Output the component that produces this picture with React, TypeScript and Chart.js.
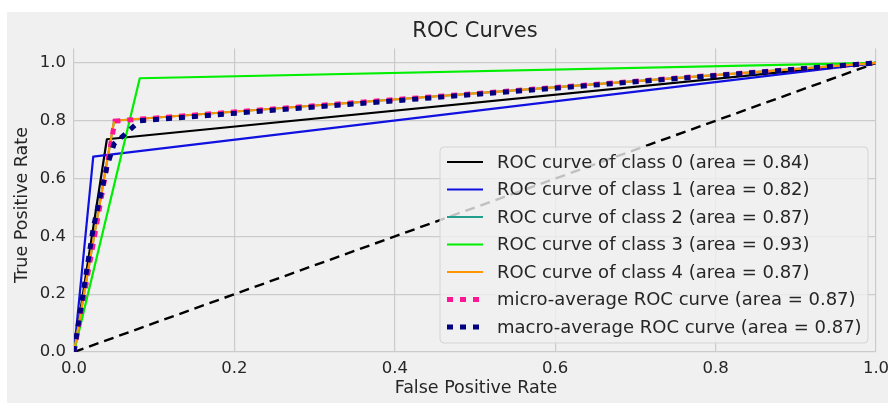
import { useEffect, useRef } from 'react';
import { Chart, registerables } from 'chart.js';

Chart.register(...registerables);

// ---- data ----
const class0Fpr = [0, 0.041, 1];
const class0Tpr = [0, 0.736, 1];
const class1Fpr = [0, 0.024, 1];
const class1Tpr = [0, 0.676, 1];
const class2Fpr = [0, 0.05, 1];
const class2Tpr = [0, 0.8, 1];
const class3Fpr = [0, 0.082, 1];
const class3Tpr = [0, 0.947, 1];
const class4Fpr = [0, 0.05, 1];
const class4Tpr = [0, 0.8, 1];
const microFpr = [0, 0.051, 1];
const microTpr = [0, 0.799, 1];
const macroFpr = [0, 0.024, 0.041, 0.05, 0.082, 1];
const macroTpr = [0, 0.43, 0.64, 0.72, 0.8, 1];
const chanceFpr = [0, 1];
const chanceTpr = [0, 1];

const seriesLabels = [
  'ROC curve of class 0 (area = 0.84)',
  'ROC curve of class 1 (area = 0.82)',
  'ROC curve of class 2 (area = 0.87)',
  'ROC curve of class 3 (area = 0.93)',
  'ROC curve of class 4 (area = 0.87)',
  'micro-average ROC curve (area = 0.87)',
  'macro-average ROC curve (area = 0.87)',
];
const seriesColors = ['#000000', '#1010e0', '#20a08c', '#00ee00', '#ff9500', '#ff1493', '#000080'];
const tickValues = [0, 0.2, 0.4, 0.6, 0.8, 1.0];

const FONT = '"DejaVu Sans", sans-serif';
const TEXT = '#262626';

const pts = (xs: number[], ys: number[]) => xs.map((x, i) => ({ x, y: ys[i] }));

const solid = (label: string, color: string, xs: number[], ys: number[]) => ({
  label,
  data: pts(xs, ys),
  borderColor: color,
  backgroundColor: color,
  borderWidth: 2.2,
  pointRadius: 0,
  pointHoverRadius: 0,
  fill: false,
  tension: 0,
  showLine: true,
  borderJoinStyle: 'round' as const,
  borderCapStyle: 'round' as const,
});

const dotted = (label: string, color: string, xs: number[], ys: number[]) => ({
  label,
  data: pts(xs, ys),
  borderColor: color,
  backgroundColor: color,
  borderWidth: 5,
  borderDash: [6, 7],
  borderCapStyle: 'butt' as const,
  pointRadius: 0,
  pointHoverRadius: 0,
  fill: false,
  tension: 0,
  showLine: true,
});

const decorPlugin = {
  id: 'decor',
  beforeDraw(chart: any) {
    const { ctx, width, height } = chart;
    ctx.save();
    ctx.fillStyle = '#ffffff';
    ctx.fillRect(0, 0, width, height);
    ctx.fillStyle = '#f0f0f0';
    ctx.fillRect(7, 12, width - 7, height - 12);
    ctx.restore();
  },
  afterDraw(chart: any) {
    const { ctx, chartArea } = chart;
    ctx.save();
    // title
    ctx.fillStyle = TEXT;
    ctx.textAlign = 'center';
    ctx.textBaseline = 'middle';
    const cx = (chartArea.left + chartArea.right) / 2;
    ctx.font = `21px ${FONT}`;
    ctx.fillText('ROC Curves', cx, 32);
    // axis titles
    ctx.font = `17.5px ${FONT}`;
    ctx.fillText('False Positive Rate', cx + 1, 388);
    ctx.save();
    ctx.translate(22, 205);
    ctx.rotate(-Math.PI / 2);
    ctx.fillText('True Positive Rate', 0, 0);
    ctx.restore();

    // legend
    const bx = 440, by = 147, bw = 428, bh = 196, r = 4;
    ctx.beginPath();
    ctx.moveTo(bx + r, by);
    ctx.arcTo(bx + bw, by, bx + bw, by + bh, r);
    ctx.arcTo(bx + bw, by + bh, bx, by + bh, r);
    ctx.arcTo(bx, by + bh, bx, by, r);
    ctx.arcTo(bx, by, bx + bw, by, r);
    ctx.closePath();
    ctx.fillStyle = 'rgba(240,240,240,0.8)';
    ctx.fill();
    ctx.strokeStyle = '#d4d4d4';
    ctx.lineWidth = 1;
    ctx.stroke();

    ctx.font = `18px ${FONT}`;
    ctx.textAlign = 'left';
    ctx.textBaseline = 'middle';
    seriesLabels.forEach((lab, i) => {
      const y = 162 + i * 27.5;
      ctx.beginPath();
      ctx.moveTo(447, y);
      ctx.lineTo(483, y);
      ctx.strokeStyle = seriesColors[i];
      if (i >= 5) {
        ctx.lineWidth = 5;
        ctx.setLineDash([6, 7]);
      } else {
        ctx.lineWidth = 2.2;
        ctx.setLineDash([]);
      }
      ctx.lineCap = 'butt';
      ctx.stroke();
      ctx.setLineDash([]);
      ctx.fillStyle = TEXT;
      ctx.fillText(lab, 497, y + 1);
    });
    ctx.restore();
  },
};

export default function App() {
  const ref = useRef<HTMLCanvasElement | null>(null);
  useEffect(() => {
    if (!ref.current) return;
    const chart = new Chart(ref.current, {
      type: 'line',
      data: {
        datasets: [
          dotted(seriesLabels[6], seriesColors[6], macroFpr, macroTpr),
          dotted(seriesLabels[5], seriesColors[5], microFpr, microTpr),
          solid(seriesLabels[4], seriesColors[4], class4Fpr, class4Tpr),
          solid(seriesLabels[3], seriesColors[3], class3Fpr, class3Tpr),
          solid(seriesLabels[2], seriesColors[2], class2Fpr, class2Tpr),
          solid(seriesLabels[1], seriesColors[1], class1Fpr, class1Tpr),
          solid(seriesLabels[0], seriesColors[0], class0Fpr, class0Tpr),
          {
            label: 'chance',
            data: pts(chanceFpr, chanceTpr),
            borderColor: '#000000',
            borderWidth: 2.4,
            borderDash: [10, 6],
            borderCapStyle: 'butt',
            pointRadius: 0,
            fill: false,
            tension: 0,
            showLine: true,
          } as any,
        ],
      },
      options: {
        responsive: false,
        animation: false,
        devicePixelRatio: 1,
        layout: { padding: { left: 0, right: 12, top: 48.5, bottom: 0 } },
        plugins: {
          legend: { display: false },
          title: { display: false },
          tooltip: { enabled: false },
        },
        scales: {
          x: {
            type: 'linear',
            min: 0,
            max: 1,
            afterBuildTicks: (s: any) => {
              s.ticks = tickValues.map((v) => ({ value: v }));
            },
            afterFit: (s: any) => {
              s.height = 51;
              s.paddingLeft = 0;
              s.paddingRight = 0;
            },
            ticks: {
              callback: (v: any) => Number(v).toFixed(1),
              font: { family: FONT, size: 16.5 },
              color: TEXT,
              padding: 7,
              maxRotation: 0,
              autoSkip: false,
            },
            grid: { color: '#cbcbcb', lineWidth: 1.2, drawTicks: false },
            border: { display: false },
          },
          y: {
            type: 'linear',
            min: 0,
            max: 1.05,
            afterBuildTicks: (s: any) => {
              s.ticks = tickValues.map((v) => ({ value: v }));
            },
            afterFit: (s: any) => {
              s.width = 74;
              s.paddingTop = 0;
              s.paddingBottom = 0;
            },
            ticks: {
              callback: (v: any) => Number(v).toFixed(1),
              font: { family: FONT, size: 16.5 },
              color: TEXT,
              padding: 8,
              autoSkip: false,
            },
            grid: { color: '#cbcbcb', lineWidth: 1.2, drawTicks: false },
            border: { display: false },
          },
        },
      } as any,
      plugins: [decorPlugin],
    });
    return () => chart.destroy();
  }, []);
  return (
    <div style={{ position: 'absolute', left: 0, top: 0, width: 888, height: 403 }}>
      <canvas ref={ref} width={888} height={403} style={{ display: 'block', width: 888, height: 403 }} />
    </div>
  );
}
